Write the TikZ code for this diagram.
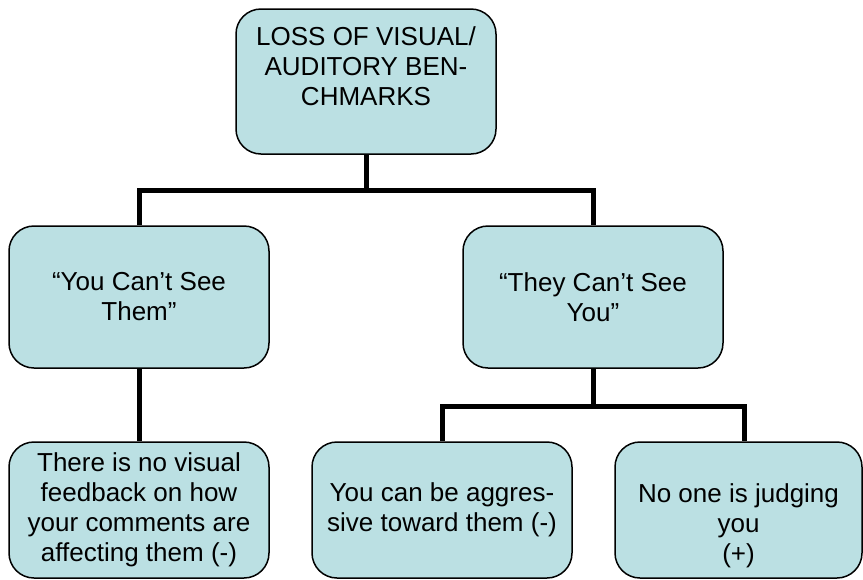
\documentclass[tikz,border=0pt]{standalone}
\usepackage{fontspec}
\setmainfont{Liberation Sans}
\usepackage{tikz}
\usetikzlibrary{positioning,calc}
\usepackage{xcolor}
\definecolor{boxblue}{RGB}{187,224,227}

\begin{document}
\begin{tikzpicture}[x=1pt,y=-1pt,
  every node/.style={font=\fontsize{26}{30}\selectfont},
  box/.style={draw=black,line width=1.5pt,fill=boxblue,rounded corners=25pt,
    minimum width=260pt,inner sep=0pt,align=center},
  link/.style={line width=5pt,line join=miter}]
\useasboundingbox (0,0) rectangle (863,579);
\node[box,minimum height=145pt] (top) at (366,81.5) {LOSS OF VISUAL/\\AUDITORY BEN-\\CHMARKS\\\mbox{}};
\node[box,minimum height=142pt] (cantsee) at (139,297) {“You Can’t See\\Them”};
\node[box,minimum height=142pt] (theycant) at (593,297) {“They Can’t See\\You”};
\node[box,minimum height=136pt] (nofeed) at (139,510) {There is no visual\\feedback on how\\your comments are\\affecting them (-)};
\node[box,minimum height=136pt] (aggr) at (442,510) {You can be aggres-\\sive toward them (-)};
\node[box,minimum height=136pt,minimum width=247pt] (judge) at (738.5,510) {\strut\\No one is judging\\you\\(+)};
\coordinate (j1) at (366,190);
\coordinate (j2) at (593,406);
\draw[link] (top.south) -- (j1);
\draw[link] (cantsee.north) |- (j1) -| (theycant.north);
\draw[link] (cantsee.south) -- (nofeed.north);
\draw[link] (theycant.south) -- (j2);
\draw[link] (aggr.north) |- (j2) -| ([xshift=5.5pt]judge.north);
\end{tikzpicture}
\end{document}
